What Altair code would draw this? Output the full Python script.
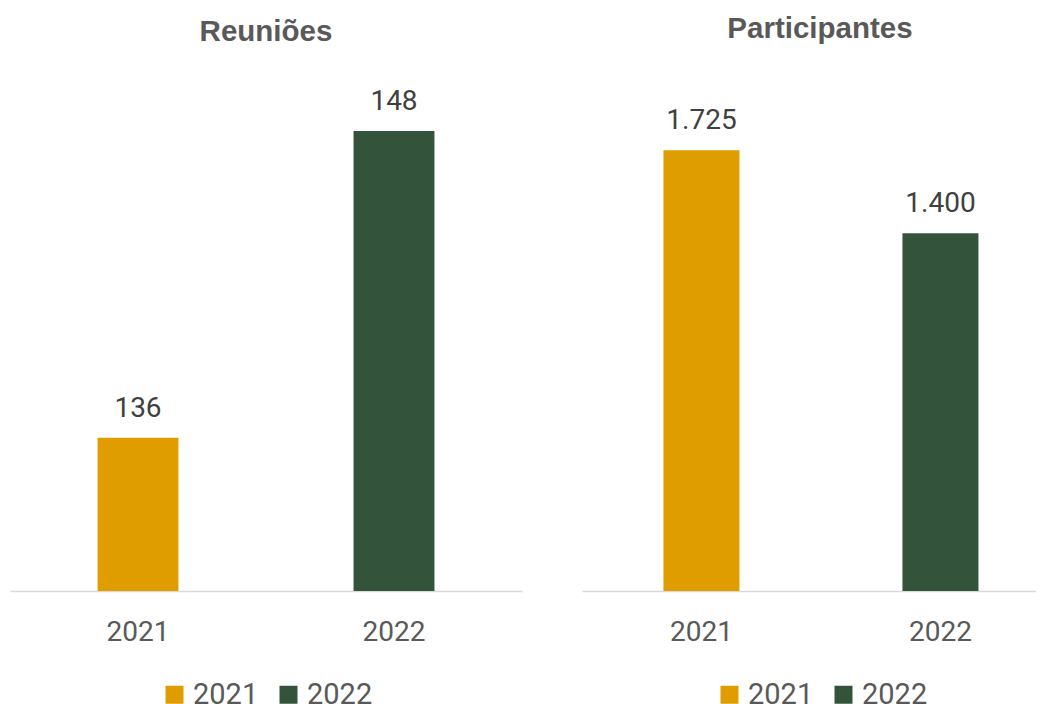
import altair as alt
import pandas as pd

years = ["2021", "2022"]
reunioes = [136, 148]
participantes = [1725, 1400]
labels_reunioes = ["136", "148"]
labels_participantes = ["1.725", "1.400"]
colors = ["#DF9D00", "#33533A"]

df_r = pd.DataFrame({"ano": years, "valor": reunioes, "rotulo": labels_reunioes})
df_p = pd.DataFrame({"ano": years, "valor": participantes, "rotulo": labels_participantes})

label_font = "Roboto"
title_font = "Liberation Sans"


def panel(df, title, width, domain, x_scale, legend_x, title_dx, title_dy):
    color = alt.Color(
        "ano:N",
        scale=alt.Scale(domain=years, range=colors),
        legend=alt.Legend(
            title=None,
            orient="none",
            direction="horizontal",
            legendX=legend_x,
            legendY=600,
            symbolType="square",
            symbolSize=324,
            symbolStrokeWidth=0,
            labelFontSize=29,
            labelFont=label_font,
            labelColor="#595959",
            labelOffset=4,
            columnPadding=15,
        ),
    )
    x = alt.X(
        "ano:N",
        scale=x_scale,
        axis=alt.Axis(
            title=None,
            labelAngle=0,
            labelFont=label_font,
            labelFontSize=28,
            labelColor="#595959",
            labelPadding=27,
            ticks=False,
            tickSize=0,
            domainColor="#D9D9D9",
            domainWidth=1.5,
            grid=False,
        ),
    )
    y = alt.Y("valor:Q", scale=alt.Scale(domain=domain, zero=False, nice=False), axis=None)
    base = alt.Chart(df)
    bars = base.mark_bar().encode(
        x=x, y=y, y2=alt.datum(domain[0]), color=color
    )
    text = base.mark_text(
        baseline="alphabetic", dy=-21, fontSize=28, font=label_font, color="#404040"
    ).encode(x=x, y=y, text="rotulo:N")
    return (bars + text).properties(
        width=width,
        height=511,
        title=alt.TitleParams(
            title,
            font=title_font,
            fontSize=29.5,
            fontWeight="bold",
            color="#595959",
            offset=32.5,
            dx=title_dx,
            dy=title_dy,
            anchor="middle",
        ),
    )


left = panel(
    df_r, "Reuniões", 512, [130, 150],
    alt.Scale(paddingInner=0.684, paddingOuter=0.342),
    150, 0, 0,
)
right = panel(
    df_p, "Participantes", 454, [0, 2000],
    alt.Scale(paddingInner=0.682, paddingOuter=0.2908, align=0.586),
    133, 11, -3,
)

chart = (
    alt.hconcat(left, right, spacing=60)
    .resolve_scale(color="independent", x="independent", y="independent")
    .resolve_legend(color="independent")
    .properties(padding={"top": 6, "left": 2, "right": 0, "bottom": 0})
    .configure_view(stroke=None)
)

chart.save("out.html", embed_options={"renderer": "svg", "actions": False})
